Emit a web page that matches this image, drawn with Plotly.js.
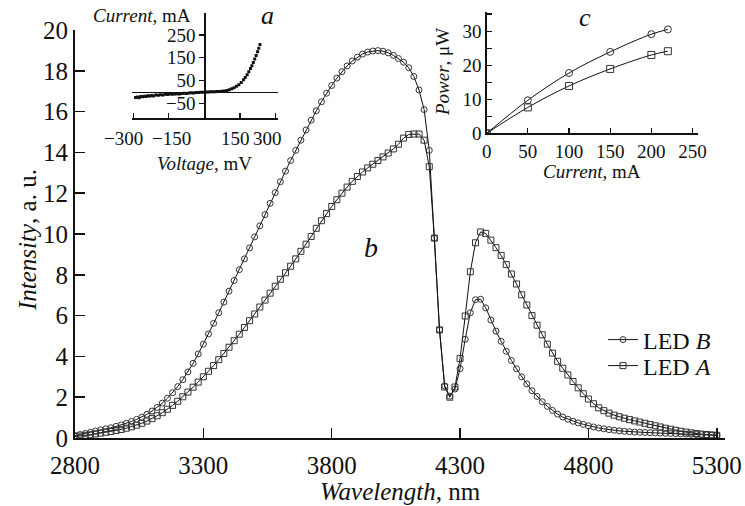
<!DOCTYPE html>
<html>
<head>
<meta charset="utf-8">
<script src="https://cdn.plot.ly/plotly-3.0.1.min.js"></script>
<style>html,body{margin:0;padding:0;background:#fff;}#chart{width:745px;height:506px;}</style>
</head>
<body>
<div id="chart"></div>
<script>
// Main spectrum (b)
const wavelength = [2800,2820,2840,2860,2880,2900,2920,2940,2960,2980,3000,3020,3040,3060,3080,3100,3120,3140,3160,3180,3200,3220,3240,3260,3280,3300,3320,3340,3360,3380,3400,3420,3440,3460,3480,3500,3520,3540,3560,3580,3600,3620,3640,3660,3680,3700,3720,3740,3760,3780,3800,3820,3840,3860,3880,3900,3920,3940,3960,3980,4000,4020,4040,4060,4080,4100,4120,4140,4160,4180,4200,4220,4240,4260,4280,4300,4320,4340,4360,4380,4400,4420,4440,4460,4480,4500,4520,4540,4560,4580,4600,4620,4640,4660,4680,4700,4720,4740,4760,4780,4800,4820,4840,4860,4880,4900,4920,4940,4960,4980,5000,5020,5040,5060,5080,5100,5120,5140,5160,5180,5200,5220,5240,5260,5280,5300];
const ledB = [0.12,0.17,0.22,0.28,0.34,0.40,0.45,0.50,0.57,0.64,0.72,0.81,0.91,1.02,1.16,1.32,1.50,1.71,1.95,2.22,2.52,2.86,3.24,3.66,4.12,4.60,5.10,5.62,6.14,6.66,7.20,7.72,8.25,8.78,9.32,9.86,10.4,10.95,11.5,12.03,12.56,13.08,13.6,14.1,14.6,15.1,15.58,16.04,16.48,16.9,17.28,17.64,17.96,18.24,18.48,18.67,18.82,18.92,18.97,18.99,18.96,18.88,18.76,18.6,18.42,18.15,17.72,17.06,16.1,14.1,9.8,5.3,2.55,2.05,2.4,3.4,4.84,6.14,6.78,6.8,6.38,5.78,5.24,4.74,4.25,3.8,3.39,3.0,2.65,2.32,2.04,1.78,1.55,1.35,1.17,1.03,0.92,0.82,0.74,0.67,0.6,0.54,0.49,0.45,0.41,0.38,0.35,0.33,0.31,0.29,0.28,0.27,0.26,0.25,0.24,0.23,0.22,0.21,0.2,0.19,0.18,0.17,0.16,0.15,0.14,0.13];
const ledA = [0.08,0.1,0.13,0.16,0.2,0.24,0.28,0.32,0.37,0.42,0.48,0.55,0.63,0.72,0.83,0.95,1.09,1.24,1.41,1.6,1.8,2.02,2.25,2.49,2.74,3.0,3.27,3.55,3.84,4.14,4.45,4.77,5.09,5.42,5.75,6.08,6.42,6.76,7.1,7.44,7.78,8.1,8.42,8.78,9.15,9.5,9.88,10.28,10.65,11.0,11.35,11.68,12.0,12.3,12.58,12.82,13.04,13.24,13.42,13.6,13.78,13.97,14.17,14.4,14.7,14.88,14.9,14.9,14.6,13.3,9.8,5.3,2.5,2.0,2.5,3.9,5.98,8.15,9.57,10.1,10.03,9.7,9.33,8.95,8.5,8.04,7.55,7.02,6.52,6.0,5.53,5.06,4.6,4.16,3.76,3.42,3.09,2.77,2.46,2.17,1.91,1.68,1.48,1.34,1.22,1.12,1.04,0.97,0.9,0.84,0.78,0.72,0.66,0.6,0.54,0.48,0.43,0.38,0.33,0.29,0.25,0.22,0.19,0.17,0.15,0.13];
const xTicks = [2800,3300,3800,4300,4800,5300];
const yTicks = [0,2,4,6,8,10,12,14,16,18,20];

// Inset (a): current-voltage
const ivVoltage = [-290,-282,-275,-268,-260,-252,-245,-238,-230,-222,-215,-205,-195,-185,-175,-165,-155,-145,-135,-125,-115,-105,-95,-85,-75,-65,-55,-45,-35,-25,-15,-5,5,15,25,35,45,55,65,75,85,95,105,115,125,135,145,155,165,172,180,187,194,200,206,212,218,224,229,234];
const ivCurrent = [-24,-22,-25,-19,-21,-18,-20,-16,-17,-15,-17,-13,-14,-12,-13,-10,-11,-9,-10,-8,-7,-8,-6,-5,-6,-4,-3,-4,-2,-2,-1,-1,0,0,1,1,1,2,2,3,5,7,10,14,19,25,32,42,54,64,76,89,103,115,130,145,160,177,192,208];
const ivXTicks = [-300,-150,0,150,300];
const ivXTickLabels = ['\u2212300','\u2212150','150','300'];
const ivYTicks = [-50,50,150,250];
const ivYTickText = ['\u221250','50','150','250'];

// Inset (c): power-current
const pcCurrent = [0,50,100,150,200,220];
const pcPowerB = [0,9.7,17.7,23.9,29.1,30.5];
const pcPowerA = [0,7.6,13.9,18.9,23.0,24.1];
const pcXTicks = [0,50,100,150,200,250];
const pcYTicks = [0,5,10,15,20,25,30,35];
const pcYTickText = ['0','','10','','20','','30',''];

const FONT = 'Liberation Serif';
const W = 745, H = 506;
const fx = px => px / W;
const fy = py => (H - py) / H;

const lineStyle = {color:'#111', width:1};
const circ = {symbol:'circle-open', size:6, color:'#333', line:{width:1}};
const sq = {symbol:'square-open', size:6, color:'#333', line:{width:1}};

const traces = [
  {x: wavelength, y: ledB, mode:'lines+markers', name:'LED <i>B</i>', legend:'legend', line: lineStyle, marker: circ, xaxis:'x', yaxis:'y'},
  {x: wavelength, y: ledA, mode:'lines+markers', name:'LED <i>A</i>', legend:'legend2', line: lineStyle, marker: sq, xaxis:'x', yaxis:'y'},
  {x: ivVoltage, y: ivCurrent, mode:'markers', showlegend:false, marker:{symbol:'square', size:3, color:'#111'}, xaxis:'x2', yaxis:'y2'},
  {x: pcCurrent, y: pcPowerB, mode:'lines+markers', showlegend:false, line:{color:'#111', width:1, shape:'spline'}, marker:{symbol:'circle-open', size:7, color:'#333', line:{width:1}}, xaxis:'x3', yaxis:'y3'},
  {x: pcCurrent, y: pcPowerA, mode:'lines+markers', showlegend:false, line:{color:'#111', width:1, shape:'spline'}, marker:{symbol:'square-open', size:7, color:'#333', line:{width:1}}, xaxis:'x3', yaxis:'y3'}
];

const axBase = {showgrid:false, zeroline:false, showline:true, linecolor:'#111', tickcolor:'#111', fixedrange:true, tickangle:0};

const ann = (text, px, py, size, angle) => ({
  text: text, x: fx(px), y: fy(py), xref:'paper', yref:'paper', showarrow:false,
  xanchor:'center', yanchor:'middle', textangle: angle || 0,
  font:{family: FONT, size: size, color:'#111'}
});

const legendBase = {xanchor:'left', yanchor:'middle', bgcolor:'rgba(0,0,0,0)', font:{family: FONT, size:24, color:'#111'}, itemwidth:30, borderwidth:0};

// inset (a) voltage tick labels, spread apart as in the figure
const ivLabelPx = [123, 171, 235, 267];

const layout = {
  width: W, height: H,
  margin:{l:0, r:0, t:0, b:0},
  paper_bgcolor:'#fff', plot_bgcolor:'rgba(0,0,0,0)',
  font:{family: FONT, color:'#111'},
  showlegend: true,
  legend: Object.assign({}, legendBase, {x: fx(603), y: fy(340)}),
  legend2: Object.assign({}, legendBase, {x: fx(603), y: fy(366)}),
  xaxis: Object.assign({}, axBase, {domain:[fx(75), fx(725)], range:[2800, 5332], tickmode:'array', tickvals: xTicks, ticks:'inside', ticklen:10, tickwidth:1.5, linewidth:2, tickfont:{family:FONT, size:25}, ticklabelstandoff:4, anchor:'y'}),
  yaxis: Object.assign({}, axBase, {domain:[fy(438), fy(30)], range:[0, 20], tickmode:'array', tickvals: yTicks, ticks:'inside', ticklen:10, tickwidth:1.5, linewidth:2, tickfont:{family:FONT, size:25}, anchor:'x'}),
  xaxis2: Object.assign({}, axBase, {domain:[fx(132), fx(278)], range:[-305, 310], tickmode:'array', tickvals: ivXTicks, showticklabels:false, ticks:'inside', ticklen:5, tickwidth:1.2, linewidth:1.5, anchor:'y2'}),
  yaxis2: Object.assign({}, axBase, {domain:[fy(118.3), fy(13.3)], range:[-115, 345], tickmode:'array', tickvals: ivYTicks, ticktext: ivYTickText, ticks:'outside', ticklen:5, tickwidth:1.2, linewidth:1.5, tickfont:{family:FONT, size:19}, anchor:'free', position: fx(204.4), zeroline:true, zerolinecolor:'#111', zerolinewidth:1}),
  xaxis3: Object.assign({}, axBase, {domain:[fx(486.7), fx(698.3)], range:[0, 257], tickmode:'array', tickvals: pcXTicks, ticks:'inside', ticklen:5, tickwidth:1.2, linewidth:1.5, tickfont:{family:FONT, size:19}, anchor:'y3'}),
  yaxis3: Object.assign({}, axBase, {domain:[fy(133.3), fy(11.7)], range:[0, 35.7], tickmode:'array', tickvals: pcYTicks, ticktext: pcYTickText, ticks:'inside', ticklen:5, tickwidth:1.2, linewidth:1.5, tickfont:{family:FONT, size:19}, anchor:'x3'}),
  annotations: [
    ann('<i>Wavelength</i>, nm', 400, 491, 25),
    ann('<i>Intensity</i>, a. u.', 27, 240, 25, -90),
    ann('<i>b</i>', 371, 248, 28),
    ann('<i>Current</i>, mA', 142, 15, 19),
    ann('<i>a</i>', 267, 15, 26),
    ann('<i>Voltage</i>, mV', 204, 163, 19),
    ann('<i>c</i>', 585, 17, 26),
    ann('<i>Power</i>, \u03bcW', 443, 72, 19, -90),
    ann('<i>Current</i>, mA', 592, 171, 19)
  ].concat(ivXTickLabels.map((t, i) => ann(t, ivLabelPx[i], 138, 19)))
};

Plotly.newPlot('chart', traces, layout, {displayModeBar:false, staticPlot:true});
</script>
</body>
</html>
